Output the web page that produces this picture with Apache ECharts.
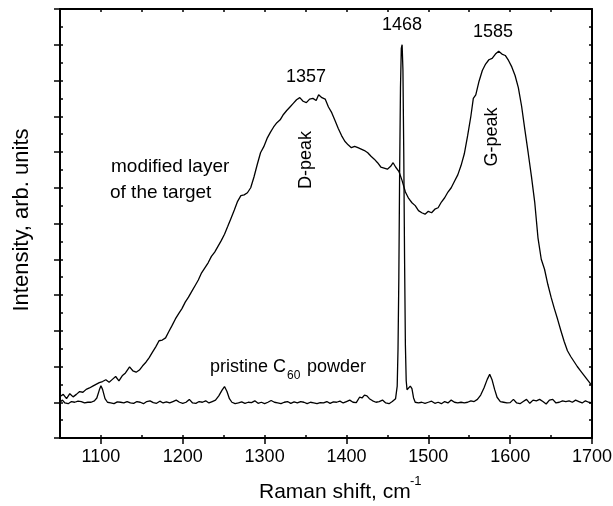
<!DOCTYPE html>
<html>
<head>
<meta charset="utf-8">
<script src="https://cdn.jsdelivr.net/npm/echarts@6/dist/echarts.min.js"></script>
<style>
  html, body { margin: 0; padding: 0; background: #fff; }
  #chart { width: 613px; height: 506px; }
</style>
</head>
<body>
<div id="chart"></div>
<script>
// modified layer of the target (Raman shift, intensity)
const modifiedShift = [1050,1054,1058,1062,1066,1070,1074,1078,1082,1086,1090,1094,1098,1102,1106,1110,1114,1118,1122,1126,1130,1135,1139,1143,1147,1151,1155,1159,1163,1167,1171,1175,1179,1183,1187,1191,1195,1199,1203,1207,1211,1215,1219,1223,1227,1231,1235,1239,1243,1247,1251,1255,1259,1263,1267,1271,1275,1279,1283,1287,1291,1295,1299,1303,1307,1311,1315,1319,1323,1327,1331,1335,1339,1343,1347,1351,1355,1359,1363,1366,1370,1374,1378,1382,1386,1390,1394,1398,1402,1406,1410,1414,1418,1422,1426,1430,1434,1438,1442,1446,1450,1454,1457,1460,1464,1468,1472,1476,1480,1484,1488,1492,1496,1500,1504,1508,1512,1516,1520,1524,1528,1532,1536,1540,1544,1548,1552,1555,1558,1562,1566,1570,1574,1578,1582,1586,1590,1594,1598,1602,1606,1610,1614,1618,1622,1626,1630,1634,1638,1642,1646,1650,1654,1658,1662,1666,1670,1674,1678,1682,1686,1690,1694,1698,1700];
const modifiedIntensity = [1.16,1.22,1.10,1.24,1.15,1.22,1.30,1.28,1.36,1.40,1.45,1.50,1.55,1.58,1.63,1.56,1.64,1.72,1.60,1.74,1.82,1.99,1.88,1.84,1.90,2.02,2.12,2.25,2.40,2.55,2.72,2.74,2.80,2.98,3.15,3.33,3.48,3.62,3.80,3.94,4.10,4.26,4.42,4.62,4.76,4.90,5.08,5.20,5.36,5.52,5.70,5.92,6.15,6.38,6.62,6.78,6.80,6.86,7.00,7.30,7.65,7.98,8.15,8.38,8.55,8.70,8.82,8.90,9.05,9.16,9.26,9.36,9.46,9.52,9.42,9.38,9.48,9.50,9.44,9.60,9.52,9.48,9.26,9.10,8.88,8.66,8.46,8.30,8.20,8.12,8.16,8.12,8.08,8.04,7.98,7.88,7.80,7.70,7.58,7.55,7.52,7.60,7.70,7.58,7.46,7.20,6.88,6.70,6.58,6.50,6.36,6.30,6.26,6.34,6.30,6.40,6.44,6.60,6.72,6.88,7.00,7.18,7.36,7.62,7.95,8.45,9.00,9.50,9.60,9.98,10.28,10.46,10.58,10.62,10.74,10.82,10.74,10.70,10.56,10.38,10.14,9.80,9.28,8.62,7.98,7.32,6.60,5.60,5.00,4.72,4.30,3.94,3.62,3.32,3.00,2.70,2.44,2.28,2.14,2.00,1.88,1.76,1.64,1.52,1.48];

// pristine C60 powder
const pristineShift = [1050,1053,1056,1060,1064,1068,1072,1076,1080,1084,1088,1092,1095,1098,1100,1102,1105,1108,1112,1116,1120,1124,1128,1132,1136,1140,1144,1148,1152,1156,1160,1164,1168,1172,1176,1180,1184,1188,1192,1196,1200,1204,1208,1212,1216,1220,1224,1228,1232,1236,1240,1244,1248,1251,1254,1257,1260,1264,1268,1272,1276,1280,1284,1288,1292,1296,1300,1304,1308,1312,1316,1320,1324,1328,1332,1336,1340,1344,1348,1352,1356,1360,1364,1368,1372,1376,1380,1384,1388,1392,1396,1400,1404,1408,1412,1416,1419,1422,1425,1428,1432,1436,1440,1444,1448,1452,1456,1458,1460,1462,1463,1464,1465,1466,1467,1468,1469,1470,1471,1472,1473,1474,1476,1478,1480,1482,1484,1488,1492,1496,1500,1504,1508,1512,1516,1520,1524,1528,1532,1536,1540,1544,1548,1552,1556,1560,1564,1568,1572,1575,1578,1581,1584,1588,1592,1596,1600,1604,1608,1612,1616,1620,1624,1628,1632,1636,1640,1644,1648,1652,1656,1660,1664,1668,1672,1676,1680,1684,1688,1692,1696,1700];
const pristineIntensity = [1.00,1.06,0.98,0.96,1.02,1.00,1.03,1.02,0.98,1.00,1.00,1.04,1.12,1.34,1.46,1.36,1.10,1.00,0.98,0.96,1.01,1.00,0.98,1.02,0.98,0.97,1.02,1.00,0.96,1.02,1.04,0.99,0.97,1.03,0.98,1.01,0.98,1.02,1.06,1.00,0.97,1.00,1.08,0.98,0.97,1.02,1.00,1.04,0.98,1.02,1.06,1.18,1.34,1.44,1.30,1.10,1.00,0.96,0.98,1.01,0.97,1.00,0.99,1.04,0.97,1.00,0.96,1.00,1.05,1.00,0.98,0.96,1.00,1.02,0.97,1.01,0.98,1.02,1.00,0.96,1.00,0.98,0.96,0.99,0.98,1.02,0.97,1.01,1.00,1.03,0.98,1.02,1.06,1.00,0.99,1.14,1.12,1.20,1.18,1.10,1.04,1.00,1.02,1.06,0.98,0.96,1.02,1.02,1.10,1.45,2.50,4.50,7.50,9.80,10.90,11.00,10.30,8.00,5.00,2.60,1.60,1.35,1.30,1.45,1.38,1.12,1.00,0.98,1.00,0.97,1.00,1.03,0.97,1.00,0.96,1.02,0.98,1.06,1.00,0.98,1.00,0.98,1.00,1.04,1.02,1.08,1.20,1.40,1.64,1.78,1.62,1.36,1.14,1.02,1.00,0.98,0.99,1.08,0.98,0.96,1.02,1.08,0.97,1.06,1.04,1.08,1.02,0.95,1.06,1.08,0.98,1.00,1.04,1.02,1.04,1.00,1.06,1.02,0.98,1.04,1.00,0.98];

const xTickLabels = [1100, 1200, 1300, 1400, 1500, 1600, 1700];

const FONT = '"Liberation Sans", Arial, sans-serif';

function pairs (xs, ys) {
  return xs.map((x, i) => [x, ys[i]]);
}

const chart = echarts.init(document.getElementById('chart'));

const axisLine = { show: true, onZero: false, lineStyle: { color: '#000', width: 2 } };
const hidden = { show: false };
const innerTick = { show: true, inside: true, length: 3, lineStyle: { color: '#000', width: 1.5 } };

const option = {
  animation: false,
  backgroundColor: '#fff',
  grid: { left: 60, right: 21, top: 9, bottom: 68, outerBoundsMode: 'none', containLabel: false },
  xAxis: [
    {
      type: 'value', position: 'bottom', min: 1050, max: 1700, interval: 50,
      axisLine: axisLine,
      axisTick: { show: true, inside: false, length: 6, customValues: xTickLabels, lineStyle: { color: '#000', width: 1.5 } },
      axisLabel: {
        show: true, customValues: xTickLabels, margin: 10, color: '#000', fontSize: 18, fontFamily: FONT,
        formatter: v => String(v)
      },
      splitLine: hidden
    },
    {
      type: 'value', position: 'bottom', min: 1050, max: 1700, interval: 50,
      axisLine: hidden, axisTick: innerTick, axisLabel: hidden, splitLine: hidden
    },
    {
      type: 'value', position: 'top', min: 1050, max: 1700, interval: 50,
      axisLine: axisLine, axisTick: innerTick, axisLabel: hidden, splitLine: hidden
    }
  ],
  yAxis: [
    {
      type: 'value', position: 'left', min: 0, max: 12, interval: 1,
      axisLine: axisLine,
      axisTick: { show: true, inside: false, length: 6, lineStyle: { color: '#000', width: 1.5 } },
      axisLabel: hidden, splitLine: hidden
    },
    {
      type: 'value', position: 'left', min: 0, max: 12, interval: 0.5,
      axisLine: hidden, axisTick: innerTick, axisLabel: hidden, splitLine: hidden
    },
    {
      type: 'value', position: 'right', min: 0, max: 12, interval: 0.5,
      axisLine: axisLine, axisTick: innerTick, axisLabel: hidden, splitLine: hidden
    }
  ],
  series: [
    {
      name: 'modified layer of the target',
      type: 'line', xAxisIndex: 0, yAxisIndex: 0,
      showSymbol: false,
      lineStyle: { color: '#000', width: 1.3 },
      data: pairs(modifiedShift, modifiedIntensity)
    },
    {
      name: 'pristine C60 powder',
      type: 'line', xAxisIndex: 0, yAxisIndex: 0,
      showSymbol: false,
      lineStyle: { color: '#000', width: 1.3 },
      data: pairs(pristineShift, pristineIntensity)
    }
  ],
  graphic: [
    { type: 'text', x: 306, y: 77, style: { text: '1357', font: '18px ' + FONT, fill: '#000', align: 'center', verticalAlign: 'middle' } },
    { type: 'text', x: 402, y: 25, style: { text: '1468', font: '18px ' + FONT, fill: '#000', align: 'center', verticalAlign: 'middle' } },
    { type: 'text', x: 493, y: 32, style: { text: '1585', font: '18px ' + FONT, fill: '#000', align: 'center', verticalAlign: 'middle' } },
    { type: 'text', x: 306, y: 160, rotation: Math.PI / 2, style: { text: 'D-peak', font: '18px ' + FONT, fill: '#000', align: 'center', verticalAlign: 'middle' } },
    { type: 'text', x: 492, y: 137, rotation: Math.PI / 2, style: { text: 'G-peak', font: '18px ' + FONT, fill: '#000', align: 'center', verticalAlign: 'middle' } },
    { type: 'text', x: 111, y: 167, style: { text: 'modified layer', font: '19px ' + FONT, fill: '#000', align: 'left', verticalAlign: 'middle' } },
    { type: 'text', x: 110, y: 193, style: { text: 'of the target', font: '19px ' + FONT, fill: '#000', align: 'left', verticalAlign: 'middle' } },
    { type: 'text', x: 210, y: 367, style: { text: 'pristine C', font: '18px ' + FONT, fill: '#000', align: 'left', verticalAlign: 'middle' } },
    { type: 'text', x: 287, y: 376, style: { text: '60', font: '12px ' + FONT, fill: '#000', align: 'left', verticalAlign: 'middle' } },
    { type: 'text', x: 307, y: 367, style: { text: 'powder', font: '18px ' + FONT, fill: '#000', align: 'left', verticalAlign: 'middle' } },
    { type: 'text', x: 22, y: 220, rotation: Math.PI / 2, style: { text: 'Intensity, arb. units', font: '22px ' + FONT, fill: '#000', align: 'center', verticalAlign: 'middle' } },
    { type: 'text', x: 259, y: 492, style: { text: 'Raman shift, cm', font: '21px ' + FONT, fill: '#000', align: 'left', verticalAlign: 'middle' } },
    { type: 'text', x: 410, y: 481, style: { text: '-1', font: '13px ' + FONT, fill: '#000', align: 'left', verticalAlign: 'middle' } }
  ]
};

chart.setOption(option);
</script>
</body>
</html>
